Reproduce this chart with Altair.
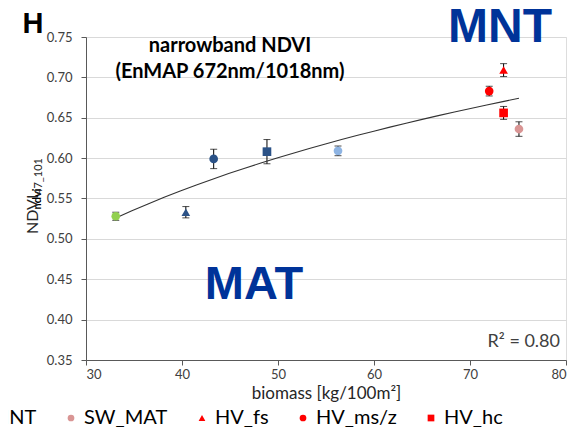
import altair as alt
import pandas as pd

# ---- data ----
series = ["HV_MAT", "SW_fs", "SW_ms/z", "SW_hc", "SW_MNT",
          "SW_MAT", "HV_fs", "HV_ms/z", "HV_hc"]
biomass = [33.1, 40.4, 43.3, 48.85, 56.25, 75.1, 73.5, 72.0, 73.5]
ndvi = [0.528, 0.533, 0.599, 0.608, 0.609, 0.636, 0.709, 0.683, 0.656]
err = [0.005, 0.007, 0.012, 0.015, 0.006, 0.009, 0.008, 0.006, 0.008]

colors = ["#92D050", "#2B5287", "#2B5287", "#2B5287", "#8EB4E3",
          "#D99594", "#FF0000", "#FF0000", "#FF0000"]
shapes = ["circle", "triangle-up", "circle", "square", "circle",
          "circle", "triangle-up", "circle", "square"]
legend_shown = ["SW_MNT", "SW_MAT", "HV_fs", "HV_ms/z", "HV_hc"]

x_ticks = [30, 40, 50, 60, 70, 80]
y_ticks = [0.35, 0.40, 0.45, 0.50, 0.55, 0.60, 0.65, 0.70, 0.75]

df = pd.DataFrame({"series": series, "biomass": biomass, "ndvi": ndvi, "err": err})

FONT = "Lato"
W, H = 480, 323

xs = alt.Scale(domain=[30, 80], nice=False, zero=False)
ys = alt.Scale(domain=[0.35, 0.75], nice=False, zero=False)

x_enc = alt.X("biomass:Q", scale=xs,
              axis=alt.Axis(values=x_ticks, grid=False, title="biomass [kg/100m²]",
                            labelFontSize=13, labelColor="#404040", labelPadding=3,
                            tickSize=5, tickColor="#595959", domainColor="#595959",
                            titleFontSize=17, titleFontWeight="normal", titleColor="#262626",
                            titlePadding=4, labelFont=FONT, titleFont=FONT))
y_enc = alt.Y("ndvi:Q", scale=ys,
              axis=alt.Axis(values=y_ticks, format=".2f", grid=True, gridColor="#D9D9D9",
                            title="", labelFontSize=13, labelColor="#404040", labelPadding=9,
                            tickSize=5, tickColor="#595959", domainColor="#595959",
                            labelFont=FONT))

base = alt.Chart(df)

errbars = base.mark_errorbar(ticks=True, size=7, thickness=1, color="black").encode(
    x=alt.X("biomass:Q", scale=xs),
    y=alt.Y("ndvi:Q", scale=ys),
    yError="err:Q",
)

fit = base.transform_regression("biomass", "ndvi", method="log").mark_line(
    color="#333333", strokeWidth=1.1
).encode(x=alt.X("biomass:Q", scale=xs), y=alt.Y("ndvi:Q", scale=ys))

points = base.mark_point(filled=True, opacity=1, size=75).encode(
    x=x_enc,
    y=y_enc,
    color=alt.Color("series:N", scale=alt.Scale(domain=series, range=colors),
                    legend=alt.Legend(values=legend_shown, orient="none", direction="horizontal",
                                      legendX=-159, legendY=371, title=None,
                                      labelFontSize=20, labelFont=FONT, labelColor="black",
                                      symbolSize=45, labelOffset=3, columnPadding=24,
                                      padding=0)),
    shape=alt.Shape("series:N", scale=alt.Scale(domain=series, range=shapes)),
)

one = pd.DataFrame({"k": [0]})

def label(text, x, y, size, color="black", weight="normal", font=FONT, align="center", angle=0):
    kw = dict(text=text, fontSize=size, color=color, fontWeight=weight, font=font,
              align=align, baseline="alphabetic")
    if angle:
        kw["angle"] = angle
    return alt.Chart(one).mark_text(**kw).encode(x=alt.value(x), y=alt.value(y))

texts = [
    label("H", -53, -4, 29, weight="bold", font="Liberation Sans"),
    label("narrowband NDVI", 144, 15, 20, weight="bold"),
    label("(EnMAP 672nm/1018nm)", 144, 41, 20, weight="bold"),
    label("MNT", 414, 5, 48, color="#003399", weight="bold", font="Liberation Sans"),
    label("MAT", 168, 262, 47, color="#003399", weight="bold", font="Liberation Sans"),
    label("R² = 0.80", 474, 310, 18, color="#404040", align="right"),
    label("NDVI", -48, 197, 16, color="#262626", align="left", angle=270),
    label("47_101", -44, 121, 11, color="#262626", align="right", angle=270),
]

chart = alt.layer(errbars, fit, points, *texts).properties(
    width=W, height=H,
    autosize=alt.AutoSizeParams(type="none"),
    padding={"left": 78, "top": 29, "right": 7, "bottom": 67},
).configure_view(stroke=None).configure(font=FONT)

chart.save("out.html", embed_options={"renderer": "svg", "actions": False})
